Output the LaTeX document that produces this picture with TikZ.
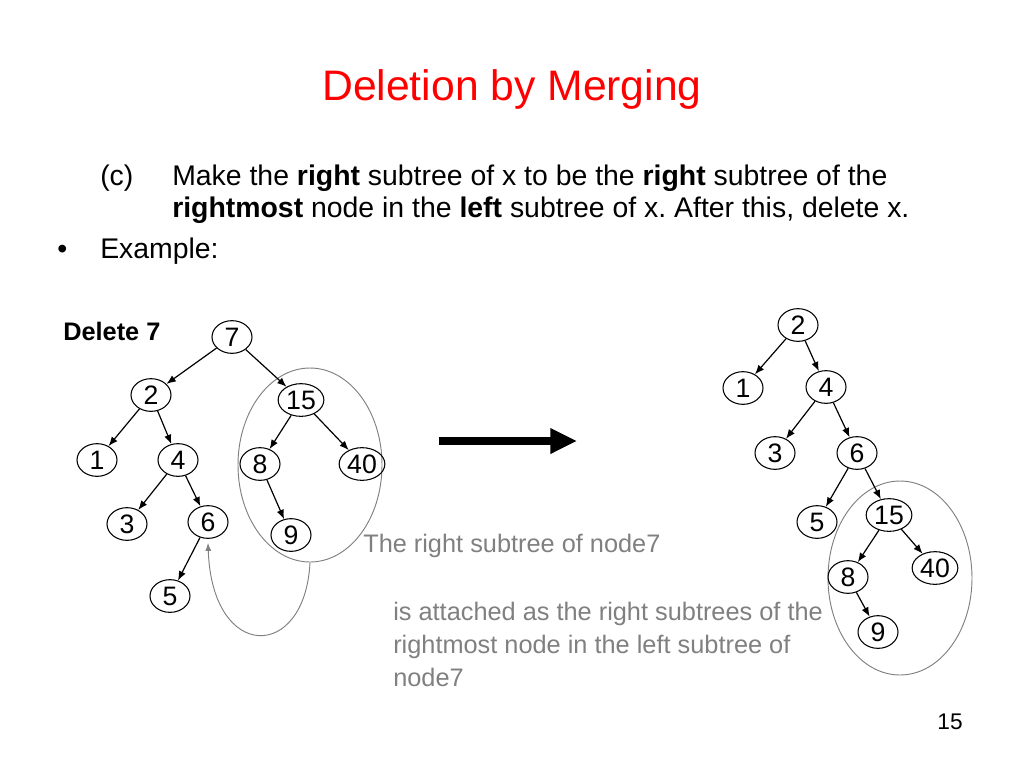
\documentclass[tikz,border=0pt]{standalone}
\usepackage{fontspec}
\setmainfont{Liberation Sans}
\usetikzlibrary{shapes.geometric,arrows.meta}
\definecolor{titlered}{RGB}{255,0,0}
\definecolor{greytext}{RGB}{128,128,128}
\frenchspacing
\begin{document}
\begin{tikzpicture}[x=0.75pt,y=-0.75pt,
  tn/.style={draw,ellipse,line width=0.8pt,minimum width=30pt,minimum height=24.5pt,inner xsep=1pt,inner ysep=0pt,font=\fontsize{20}{22}\selectfont},
  edge/.style={draw,line width=0.9pt,-{Latex[length=7pt,width=5.5pt]}},
  grp/.style={draw=greytext,ellipse,line width=0.7pt,minimum width=108pt,minimum height=145.5pt,inner sep=0pt},
  body/.style={anchor=base west,inner sep=0pt,font=\fontsize{21.3}{25}\selectfont},
  gtxt/.style={anchor=base west,inner sep=0pt,text=greytext,font=\fontsize{19}{23}\selectfont}]
\useasboundingbox[fill=white] (0,0) rectangle (1024,768);

% title and text
\node[anchor=base,inner sep=0pt,text=titlered,font=\fontsize{32}{38}\selectfont] (title) at (512,100) {Deletion by Merging};
\node[body] (c) at (100,185) {(c)};
\node[body] (l1) at (172,185) {Make the \textbf{right} subtree of x to be the \textbf{right} subtree of the};
\node[body] (l2) at (172,217) {\textbf{rightmost} node in the \textbf{left} subtree of x. After this, delete x.};
\node[body] (bul) at (57,258) {\textbullet};
\node[body] (ex) at (100,258) {Example:};
\node[anchor=base west,inner sep=0pt,font=\bfseries\fontsize{19}{23}\selectfont] (del) at (63,340) {Delete 7};

% left tree
\node[grp] (ellL) at (310,465) {};
\node[tn] (a7) at (232,337) {7};
\node[tn] (a2) at (151,395) {2};
\node[tn] (a15) at (301,400) {15};
\node[tn] (a1) at (97,460) {1};
\node[tn] (a4) at (178,460) {4};
\node[tn] (a8) at (260,464) {8};
\node[tn] (a40) at (362,464) {40};
\node[tn] (a3) at (127,524) {3};
\node[tn] (a6) at (208,522) {6};
\node[tn] (a9) at (291,535) {9};
\node[tn] (a5) at (170,596) {5};
\draw[edge] (a7) -- (a2);
\draw[edge] (a7) -- (a15);
\draw[edge] (a2) -- (a1);
\draw[edge] (a2) -- (a4);
\draw[edge] (a4) -- (a3);
\draw[edge] (a4) -- (a6);
\draw[edge] (a6) -- (a5);
\draw[edge] (a15) -- (a8);
\draw[edge] (a15) -- (a40);
\draw[edge] (a8) -- (a9);
\draw[greytext,line width=0.7pt,-{Latex[length=6pt,width=4.5pt]}] (ellL.south) .. controls (305,662) and (212,662) .. ([yshift=-3pt]a6.south);

% big arrow
\coordinate (arS) at (439,441);
\coordinate (arE) at (577,441);
\draw[line width=5.5pt,-{Triangle[length=20pt,width=18pt]}] (arS) -- (arE);

% grey texts
\node[gtxt] (t1) at (363,552) {The right subtree of node7};
\node[gtxt] (t2) at (393,620) {is attached as the right subtrees of the};
\node[gtxt] (t3) at (393,653) {rightmost node in the left subtree of};
\node[gtxt] (t4) at (393,686) {node7};

% right tree
\node[grp] (ellR) at (900,578) {};
\node[tn] (b2) at (798,325) {2};
\node[tn] (b1) at (743,388) {1};
\node[tn] (b4) at (826,387) {4};
\node[tn] (b3) at (775,453) {3};
\node[tn] (b6) at (857,453) {6};
\node[tn] (b5) at (817,522) {5};
\node[tn] (b15) at (889,515) {15};
\node[tn] (b8) at (848,577) {8};
\node[tn] (b40) at (935,568) {40};
\node[tn] (b9) at (878,632) {9};
\draw[edge] (b2) -- (b1);
\draw[edge] (b2) -- (b4);
\draw[edge] (b4) -- (b3);
\draw[edge] (b4) -- (b6);
\draw[edge] (b6) -- (b5);
\draw[edge] (b6) -- (b15);
\draw[edge] (b15) -- (b8);
\draw[edge] (b15) -- (b40);
\draw[edge] (b8) -- (b9);

% page number
\node[anchor=base,inner sep=0pt,font=\fontsize{17}{20}\selectfont] (pg) at (950,729) {15};
\end{tikzpicture}
\end{document}
